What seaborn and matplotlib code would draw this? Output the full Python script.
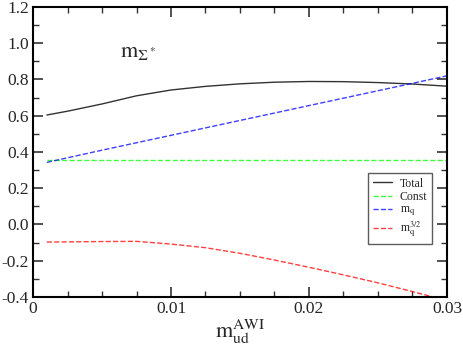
import matplotlib
matplotlib.use("Agg")
import matplotlib.pyplot as plt
import seaborn as sns
import numpy as np
import pandas as pd
from matplotlib.ticker import MultipleLocator, FixedLocator

sns.set_theme(style="ticks")
plt.rcParams['font.family'] = ['Liberation Serif', 'DejaVu Serif']
plt.rcParams['mathtext.fontset'] = 'stix'

m_ud = [0.001, 0.0025, 0.005, 0.0075, 0.01, 0.0125, 0.015, 0.0175, 0.02, 0.0225, 0.025, 0.0275, 0.03]
total = [0.604, 0.625, 0.665, 0.710, 0.742, 0.762, 0.776, 0.785, 0.789, 0.788, 0.783, 0.775, 0.763]
const = [0.355] * len(m_ud)
mq = [0.343, 0.368, 0.410, 0.451, 0.492, 0.533, 0.574, 0.615, 0.656, 0.697, 0.738, 0.779, 0.820]
mq32 = [-0.097, -0.096, -0.094, -0.093, -0.108, -0.128, -0.159, -0.196, -0.236, -0.278, -0.322, -0.370, -0.420]

labels = ["Total", "Const", r"m$_\mathrm{q}$", r"m$_\mathrm{q}^{3/2}$"]
colors = ["#000000", "#00ff00", "#0000ff", "#ff0000"]
styles = ["-", "--", "--", "--"]

fig = plt.figure(figsize=(4.63, 3.49), dpi=100)
ax = fig.add_axes([0.0713, 0.149, 0.8941, 0.831])

for ys, lab, c, ls in zip([total, const, mq, mq32], labels, colors, styles):
    sns.lineplot(x=m_ud, y=ys, ax=ax, color=c, linestyle=ls, linewidth=1.0,
                 label=lab, alpha=0.75 if c != "#000000" else 0.8)

ax.set_xlim(0, 0.03)
ax.set_ylim(-0.4, 1.2)
ax.xaxis.set_major_locator(FixedLocator([0, 0.01, 0.02, 0.03]))
ax.set_xticklabels(["0", "0.01", "0.02", "0.03"])
ax.xaxis.set_minor_locator(MultipleLocator(0.0025))
ax.yaxis.set_major_locator(MultipleLocator(0.2))
ax.yaxis.set_minor_locator(MultipleLocator(0.1))
ax.set_yticklabels([f"{v:.1f}" for v in ax.get_yticks()])
ax.tick_params(which='both', direction='in', top=True, right=True, labelsize=12.5, pad=3, color='#333333')
ax.tick_params(which='major', length=7, width=1.2)
ax.tick_params(which='minor', length=4, width=1.0)
for s in ax.spines.values():
    s.set_linewidth(1.5)
    s.set_color('black')

ax.set_xlabel("")
ax.set_ylabel("")
fig.text(240 / 463, 1 - 338 / 349, r"$\mathrm{m}_{\mathrm{ud}}^{\mathrm{AWI}}$", fontsize=16,
         ha='center', va='baseline')
ax.text(0.0063, 0.925, r"$\mathrm{m}_{\Sigma^*}$", fontsize=16, va='baseline')

leg = ax.legend(loc='upper left', bbox_to_anchor=(0.809, 0.428), borderaxespad=0, fontsize=8.5,
                frameon=True, fancybox=False, edgecolor='#333333', handlelength=1.6,
                borderpad=0.4, labelspacing=0.1, handletextpad=0.7)
leg.get_frame().set_linewidth(1.0)

fig.savefig("out.png", dpi=100)
